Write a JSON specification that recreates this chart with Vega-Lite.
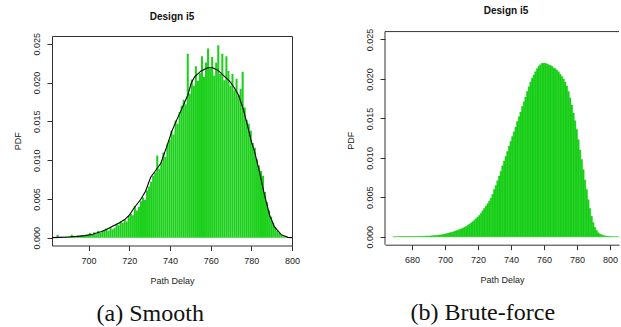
{
  "$schema": "https://vega.github.io/schema/vega-lite/v6.json",
  "padding": {"left": 12, "top": 6, "right": 0, "bottom": 0},
  "spacing": 44,
  "config": {
    "font": "Liberation Sans",
    "view": {"stroke": "#333333", "strokeWidth": 1},
    "bar": {"binSpacing": 0},
    "axis": {"grid": false, "domain": false, "tickColor": "#333333", "tickSize": 5, "tickWidth": 1, "labelFont": "Liberation Sans", "labelFontSize": 9, "labelColor": "#222222", "titleFont": "Liberation Sans", "titleFontSize": 9, "titleFontWeight": "normal", "titleColor": "#222222", "labelPadding": 6, "domainColor": "#333333", "domainWidth": 1},
    "axisY": {"labelAngle": 270, "labelAlign": "center", "labelBaseline": "bottom", "titlePadding": 10, "format": ".3f"},
    "axisX": {"titlePadding": 11, "labelFlush": false, "labelOverlap": false},
    "title": {"font": "Liberation Sans", "fontSize": 10, "fontWeight": "bold", "color": "#111111"}
  },
  "datasets": {
    "hist": [
      {"x":683,"pdf":0.00003},{"x":684,"pdf":0.0004},{"x":685,"pdf":0.00005},{"x":686,"pdf":0.0001},{"x":687,"pdf":0.0},{"x":688,"pdf":0.00008},{"x":689,"pdf":0.0001},{"x":690,"pdf":0.00012},{"x":691,"pdf":0.0004},{"x":692,"pdf":0.00015},
      {"x":693,"pdf":0.0001},{"x":694,"pdf":0.0002},{"x":695,"pdf":0.00018},{"x":696,"pdf":0.0003},{"x":697,"pdf":0.00022},{"x":698,"pdf":0.0003},{"x":699,"pdf":0.00035},{"x":700,"pdf":0.0006},{"x":701,"pdf":0.0004},{"x":702,"pdf":0.0007},
      {"x":703,"pdf":0.00045},{"x":704,"pdf":0.0009},{"x":705,"pdf":0.0006},{"x":706,"pdf":0.0008},{"x":707,"pdf":0.00095},{"x":708,"pdf":0.0012},{"x":709,"pdf":0.0009},{"x":710,"pdf":0.0014},{"x":711,"pdf":0.0011},{"x":712,"pdf":0.0013},
      {"x":713,"pdf":0.0018},{"x":714,"pdf":0.0016},{"x":715,"pdf":0.0021},{"x":716,"pdf":0.0019},{"x":717,"pdf":0.0024},{"x":718,"pdf":0.0021},{"x":719,"pdf":0.0028},{"x":720,"pdf":0.0031},{"x":721,"pdf":0.0029},{"x":722,"pdf":0.0041},
      {"x":723,"pdf":0.0035},{"x":724,"pdf":0.004},{"x":725,"pdf":0.0047},{"x":726,"pdf":0.0052},{"x":727,"pdf":0.0049},{"x":728,"pdf":0.0061},{"x":729,"pdf":0.0066},{"x":730,"pdf":0.0072},{"x":731,"pdf":0.008},{"x":732,"pdf":0.0084},
      {"x":733,"pdf":0.0106},{"x":734,"pdf":0.0089},{"x":735,"pdf":0.0097},{"x":736,"pdf":0.011},{"x":737,"pdf":0.0104},{"x":738,"pdf":0.0121},{"x":739,"pdf":0.0126},{"x":740,"pdf":0.0138},{"x":741,"pdf":0.0133},{"x":742,"pdf":0.0151},
      {"x":743,"pdf":0.0147},{"x":744,"pdf":0.0162},{"x":745,"pdf":0.017},{"x":746,"pdf":0.0178},{"x":747,"pdf":0.0172},{"x":748,"pdf":0.0237},{"x":749,"pdf":0.0186},{"x":750,"pdf":0.0204},{"x":751,"pdf":0.0196},{"x":752,"pdf":0.0221},
      {"x":753,"pdf":0.0202},{"x":754,"pdf":0.0212},{"x":755,"pdf":0.0234},{"x":756,"pdf":0.0207},{"x":757,"pdf":0.0226},{"x":758,"pdf":0.0244},{"x":759,"pdf":0.0218},{"x":760,"pdf":0.0233},{"x":761,"pdf":0.0209},{"x":762,"pdf":0.0226},
      {"x":763,"pdf":0.0248},{"x":764,"pdf":0.0211},{"x":765,"pdf":0.0237},{"x":766,"pdf":0.0203},{"x":767,"pdf":0.0234},{"x":768,"pdf":0.0215},{"x":769,"pdf":0.0196},{"x":770,"pdf":0.0211},{"x":771,"pdf":0.019},{"x":772,"pdf":0.0205},
      {"x":773,"pdf":0.0184},{"x":774,"pdf":0.0192},{"x":775,"pdf":0.0214},{"x":776,"pdf":0.0168},{"x":777,"pdf":0.0152},{"x":778,"pdf":0.0147},{"x":779,"pdf":0.0138},{"x":780,"pdf":0.0122},{"x":781,"pdf":0.0116},{"x":782,"pdf":0.0101},
      {"x":783,"pdf":0.0093},{"x":784,"pdf":0.0086},{"x":785,"pdf":0.008},{"x":786,"pdf":0.0059},{"x":787,"pdf":0.0046},{"x":788,"pdf":0.0035},{"x":789,"pdf":0.0027},{"x":790,"pdf":0.0019},{"x":791,"pdf":0.0014},{"x":792,"pdf":0.0009},
      {"x":793,"pdf":0.0006},{"x":794,"pdf":0.0004},{"x":795,"pdf":0.0002},{"x":796,"pdf":0.0001}
    ],
    "kde": [
      {"x":682,"pdf":0.00001},{"x":686,"pdf":0.00005},{"x":690,"pdf":0.0001},{"x":694,"pdf":0.00017},{"x":698,"pdf":0.00027},{"x":702,"pdf":0.00045},{"x":706,"pdf":0.00077},{"x":709,"pdf":0.0011},{"x":712,"pdf":0.0015},{"x":715,"pdf":0.0019},
      {"x":718,"pdf":0.0024},{"x":720,"pdf":0.0029},{"x":722.5,"pdf":0.0039},{"x":725.5,"pdf":0.0049},{"x":728,"pdf":0.006},{"x":730.5,"pdf":0.0078},{"x":732.5,"pdf":0.0085},{"x":735.5,"pdf":0.0096},{"x":738.5,"pdf":0.0118},{"x":741,"pdf":0.0138},
      {"x":743,"pdf":0.015},{"x":746.3,"pdf":0.0169},{"x":748.8,"pdf":0.0184},{"x":750.4,"pdf":0.0199},{"x":752,"pdf":0.0207},{"x":755.3,"pdf":0.0215},{"x":758.6,"pdf":0.0219},{"x":761,"pdf":0.0219},{"x":763.5,"pdf":0.0216},{"x":766,"pdf":0.021},
      {"x":769.3,"pdf":0.0202},{"x":771.7,"pdf":0.0193},{"x":773.7,"pdf":0.0184},{"x":775.9,"pdf":0.0167},{"x":778.3,"pdf":0.0143},{"x":780,"pdf":0.0124},{"x":781.6,"pdf":0.0111},{"x":784,"pdf":0.0085},{"x":786.5,"pdf":0.0055},{"x":789,"pdf":0.0029},
      {"x":791.4,"pdf":0.0014},{"x":794.7,"pdf":0.0004},{"x":798,"pdf":0.00005},{"x":800,"pdf":0.00001}
    ],
    "smooth": [
      {"x":668,"pdf":0.00002},{"x":669,"pdf":0.00002},{"x":670,"pdf":0.00002},{"x":671,"pdf":0.00003},{"x":672,"pdf":0.00003},{"x":673,"pdf":0.00003},{"x":674,"pdf":0.00003},{"x":675,"pdf":0.00003},{"x":676,"pdf":0.00003},{"x":677,"pdf":0.00004},
      {"x":678,"pdf":0.00004},{"x":679,"pdf":0.00004},{"x":680,"pdf":0.00004},{"x":681,"pdf":0.00004},{"x":682,"pdf":0.00005},{"x":683,"pdf":0.00005},{"x":684,"pdf":0.00006},{"x":685,"pdf":0.00006},{"x":686,"pdf":0.00007},{"x":687,"pdf":0.00008},
      {"x":688,"pdf":0.00009},{"x":689,"pdf":0.0001},{"x":690,"pdf":0.00011},{"x":691,"pdf":0.00012},{"x":692,"pdf":0.00014},{"x":693,"pdf":0.00016},{"x":694,"pdf":0.00018},{"x":695,"pdf":0.0002},{"x":696,"pdf":0.00023},{"x":697,"pdf":0.00026},
      {"x":698,"pdf":0.0003},{"x":699,"pdf":0.00034},{"x":700,"pdf":0.00039},{"x":701,"pdf":0.00044},{"x":702,"pdf":0.0005},{"x":703,"pdf":0.00056},{"x":704,"pdf":0.00062},{"x":705,"pdf":0.00069},{"x":706,"pdf":0.00076},{"x":707,"pdf":0.00084},
      {"x":708,"pdf":0.00092},{"x":709,"pdf":0.001},{"x":710,"pdf":0.0011},{"x":711,"pdf":0.0012},{"x":712,"pdf":0.0013},{"x":713,"pdf":0.00145},{"x":714,"pdf":0.0016},{"x":715,"pdf":0.00175},{"x":716,"pdf":0.0019},{"x":717,"pdf":0.0021},
      {"x":718,"pdf":0.0023},{"x":719,"pdf":0.0025},{"x":720,"pdf":0.0027},{"x":721,"pdf":0.003},{"x":722,"pdf":0.0033},{"x":723,"pdf":0.0036},{"x":724,"pdf":0.0039},{"x":725,"pdf":0.0042},{"x":726,"pdf":0.0045},{"x":727,"pdf":0.0049},
      {"x":728,"pdf":0.0054},{"x":729,"pdf":0.006},{"x":730,"pdf":0.0065},{"x":731,"pdf":0.0071},{"x":732,"pdf":0.0077},{"x":733,"pdf":0.0083},{"x":734,"pdf":0.009},{"x":735,"pdf":0.0096},{"x":736,"pdf":0.0102},{"x":737,"pdf":0.0108},
      {"x":738,"pdf":0.0115},{"x":739,"pdf":0.0121},{"x":740,"pdf":0.0127},{"x":741,"pdf":0.0133},{"x":742,"pdf":0.0139},{"x":743,"pdf":0.0146},{"x":744,"pdf":0.0152},{"x":745,"pdf":0.0158},{"x":746,"pdf":0.0165},{"x":747,"pdf":0.0171},
      {"x":748,"pdf":0.0177},{"x":749,"pdf":0.0184},{"x":750,"pdf":0.019},{"x":751,"pdf":0.0196},{"x":752,"pdf":0.0201},{"x":753,"pdf":0.0205},{"x":754,"pdf":0.0209},{"x":755,"pdf":0.0213},{"x":756,"pdf":0.0216},{"x":757,"pdf":0.0218},
      {"x":758,"pdf":0.022},{"x":759,"pdf":0.022},{"x":760,"pdf":0.022},{"x":761,"pdf":0.0219},{"x":762,"pdf":0.0218},{"x":763,"pdf":0.0217},{"x":764,"pdf":0.0216},{"x":765,"pdf":0.0214},{"x":766,"pdf":0.0213},{"x":767,"pdf":0.0211},
      {"x":768,"pdf":0.0209},{"x":769,"pdf":0.0206},{"x":770,"pdf":0.0203},{"x":771,"pdf":0.02},{"x":772,"pdf":0.0196},{"x":773,"pdf":0.0191},{"x":774,"pdf":0.0184},{"x":775,"pdf":0.0176},{"x":776,"pdf":0.0167},{"x":777,"pdf":0.0157},
      {"x":778,"pdf":0.0147},{"x":779,"pdf":0.0136},{"x":780,"pdf":0.0123},{"x":781,"pdf":0.011},{"x":782,"pdf":0.0098},{"x":783,"pdf":0.0085},{"x":784,"pdf":0.0072},{"x":785,"pdf":0.006},{"x":786,"pdf":0.0047},{"x":787,"pdf":0.0036},
      {"x":788,"pdf":0.0026},{"x":789,"pdf":0.0018},{"x":790,"pdf":0.0012},{"x":791,"pdf":0.0008},{"x":792,"pdf":0.0005},{"x":793,"pdf":0.00035},{"x":794,"pdf":0.00025},{"x":795,"pdf":0.00018},{"x":796,"pdf":0.00012},{"x":797,"pdf":0.00008},
      {"x":798,"pdf":0.00006},{"x":799,"pdf":0.00004},{"x":800,"pdf":0.00003},{"x":801,"pdf":0.00002},{"x":802,"pdf":0.00002},{"x":803,"pdf":0.00001},{"x":804,"pdf":0.00001}
    ]
  },
  "hconcat": [
    {
      "title": {"text": "(a) Smooth", "orient": "bottom", "frame": "bounds", "anchor": "middle", "font": "Liberation Serif", "fontSize": 24, "fontWeight": "normal", "color": "#111111", "offset": 16, "dx": -6},
      "vconcat": [
        {
          "width": 240,
          "height": 209.5,
          "title": {"text": "Design i5", "offset": 10},
          "layer": [
            {
              "data": {"name": "hist"},
              "mark": {"type": "bar", "color": "#1CD01C", "binSpacing": 0, "clip": true},
              "encoding": {
                "x": {"field": "x", "type": "quantitative", "bin": {"binned": true, "step": 1}, "scale": {"domain": [682, 800], "nice": false, "zero": false}, "axis": {"values": [700, 720, 740, 760, 780, 800], "title": "Path Delay", "format": "d"}},
                "y": {"field": "pdf", "type": "quantitative", "scale": {"domain": [-0.001, 0.026], "nice": false, "zero": false}, "axis": {"values": [0, 0.005, 0.01, 0.015, 0.02, 0.025], "title": "PDF"}}
              }
            },
            {
              "data": {"name": "kde"},
              "mark": {"type": "line", "color": "#000000", "strokeWidth": 1.1, "clip": true},
              "encoding": {
                "x": {"field": "x", "type": "quantitative"},
                "y": {"field": "pdf", "type": "quantitative"}
              }
            }
          ]
        }
      ]
    },
    {
      "title": {"text": "(b) Brute-force", "orient": "bottom", "frame": "bounds", "anchor": "middle", "font": "Liberation Serif", "fontSize": 24, "fontWeight": "normal", "color": "#111111", "offset": 16},
      "vconcat": [
        {
          "width": 234,
          "height": 208.7,
          "view": {"stroke": null},
          "title": {"text": "Design i5", "offset": 12, "dx": 4},
          "layer": [
            {
              "data": {"name": "smooth"},
              "mark": {"type": "bar", "color": "#19D219", "stroke": "#10C410", "strokeWidth": 0.4, "binSpacing": 0, "clip": true},
              "encoding": {
                "x": {"field": "x", "type": "quantitative", "bin": {"binned": true, "step": 1}, "scale": {"domain": [663.6, 805.4], "nice": false, "zero": false}, "axis": {"values": [680, 700, 720, 740, 760, 780, 800], "title": "Path Delay", "format": "d", "domain": true}},
                "y": {"field": "pdf", "type": "quantitative", "scale": {"domain": [-0.001, 0.02544], "nice": false, "zero": false}, "axis": {"values": [0, 0.005, 0.01, 0.015, 0.02, 0.025], "title": "PDF"}}
              }
            },
            {
              "data": {"values": [{}]},
              "mark": {"type": "rule", "color": "#333333", "strokeWidth": 1},
              "encoding": {
                "x": {"datum": 663.6},
                "y": {"datum": -0.001},
                "y2": {"datum": 0.026}
              }
            },
            {
              "data": {"values": [{}]},
              "mark": {"type": "rule", "color": "#333333", "strokeWidth": 1},
              "encoding": {
                "x": {"datum": 663.6},
                "x2": {"datum": 805.4},
                "y": {"datum": 0.026}
              }
            }
          ]
        }
      ]
    }
  ]
}
